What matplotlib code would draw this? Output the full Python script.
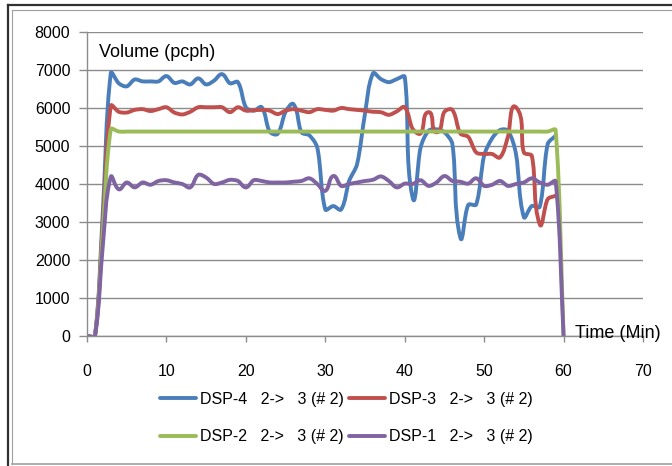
import numpy as np
import matplotlib
matplotlib.use('Agg')
import matplotlib.pyplot as plt
from matplotlib.path import Path
from matplotlib.patches import PathPatch
from matplotlib.lines import Line2D

plt.rcParams['font.family'] = ['Liberation Sans', 'DejaVu Sans']

# Time (min) and volumes (pcph)
time = list(range(61))

dsp4 = [0, 0, 3300, 6920, 6650, 6570, 6750, 6700, 6700, 6700,
        6840, 6660, 6700, 6620, 6780, 6620, 6720, 6890, 6650, 6680,
        6020, 5930, 6020, 5380, 5320, 5900, 6100, 5360, 5280, 4950,
        3330, 3420, 3330, 4080, 4520, 5850, 6910, 6760, 6680, 6760,
        6820, 3640, 4960, 5400, 5440, 5360, 5050, 2590, 3450, 3460,
        4750, 5200, 5420, 5400, 4800, 3130, 3420, 3400, 5050, 5270]

dsp3 = [0, 0, 3000, 6060, 5900, 5880, 5950, 5970, 5920, 5970,
        6020, 5880, 5830, 5900, 6020, 6020, 6020, 6020, 5890, 6020,
        5930, 5940, 5950, 5930, 5840, 5930, 5970, 5930, 5890, 5970,
        5950, 5930, 6000, 5970, 5950, 5930, 5900, 5890, 5820, 5910,
        6020, 5450, 5330, 5890, 5360, 5900, 5950, 5330, 5240, 4830,
        4790, 4790, 4700, 5250, 6020, 4830, 4740, 2940, 3600, 3690]

dsp2 = [0, 0, 2800, 5440, 5380, 5380, 5380, 5380, 5380, 5380,
        5380, 5380, 5380, 5380, 5380, 5380, 5380, 5380, 5380, 5380,
        5380, 5380, 5380, 5380, 5380, 5380, 5380, 5380, 5380, 5380,
        5380, 5380, 5380, 5380, 5380, 5380, 5380, 5380, 5380, 5380,
        5380, 5380, 5380, 5380, 5380, 5380, 5380, 5380, 5380, 5380,
        5380, 5380, 5380, 5380, 5380, 5380, 5380, 5380, 5380, 5420, 0]

dsp1 = [0, 0, 2400, 4190, 3860, 4040, 3910, 4040, 3980, 4080,
        4100, 4040, 4000, 3910, 4240, 4170, 4000, 4040, 4110, 4080,
        3910, 4100, 4080, 4040, 4040, 4040, 4060, 4080, 4150, 4000,
        3820, 4210, 3950, 4000, 4040, 4080, 4110, 4200, 4080, 3910,
        4010, 4000, 4100, 3950, 4040, 4210, 4080, 4060, 4010, 4150,
        3950, 3980, 4080, 3950, 4000, 4040, 4150, 4040, 3980, 4070, 0]

labels = ['DSP-4   2->   3 (# 2)', 'DSP-3   2->   3 (# 2)',
          'DSP-2   2->   3 (# 2)', 'DSP-1   2->   3 (# 2)']
colors = ['#4a7ebb', '#c0504d', '#9bbb59', '#8064a2']
series = [dsp4, dsp3, dsp2, dsp1]

W, H = 672, 466
fig = plt.figure(figsize=(W / 100, H / 100), dpi=100)
ax = fig.add_axes([87 / W, 1 - 336 / H, (643 - 87) / W, (336 - 32) / H])
ax.set_xlim(0, 70)
ax.set_ylim(0, 8000)
ax.set_xticks(range(0, 71, 10))
ax.set_yticks(range(0, 8001, 1000))
ax.grid(axis='y', color='#8c8c8c', lw=1.0)
ax.set_axisbelow(True)
for s in ['top', 'right']:
    ax.spines[s].set_visible(False)
for s in ['left', 'bottom']:
    ax.spines[s].set_color('#8c8c8c')
    ax.spines[s].set_linewidth(1.0)
ax.tick_params(axis='y', length=6, width=1.0, color='#8c8c8c', pad=6, labelsize=11.5)
ax.tick_params(axis='x', length=4.5, width=1.0, color='#8c8c8c', pad=16, labelsize=11.5)


def smooth_path(xs, ys, k=0.3):
    # excel-like smoothed line: bezier segments built in screen space
    pts = ax.transData.transform(np.column_stack([xs, ys]))
    n = len(pts)
    verts = [pts[0]]
    codes = [Path.MOVETO]
    tang = []
    for i in range(n):
        a = pts[max(i - 1, 0)]
        b = pts[min(i + 1, n - 1)]
        d = b - a
        nd = np.hypot(*d)
        tang.append(d / nd if nd > 0 else d)
    for i in range(n - 1):
        p1, p2 = pts[i], pts[i + 1]
        L = np.hypot(*(p2 - p1))
        c1 = p1 + tang[i] * L * k
        c2 = p2 - tang[i + 1] * L * k
        verts += [c1, c2, p2]
        codes += [Path.CURVE4] * 3
    verts = ax.transData.inverted().transform(np.array(verts))
    return Path(verts, codes)


for ys, c in zip(series, colors):
    p = smooth_path(time[:len(ys)], ys)
    ax.add_patch(PathPatch(p, fill=False, ec=c, lw=2.8,
                           capstyle='round', joinstyle='round'))

ax.text(1.5, 7450, 'Volume (pcph)', fontsize=13, va='center', ha='left')
ax.text(61.4, 60, 'Time (Min)', fontsize=13, va='center', ha='left', clip_on=False)

# legend fills column-wise, so order the entries to read row by row
handles = [Line2D([], [], color=c, lw=2.8, solid_capstyle='round') for c in colors]
order = [0, 2, 1, 3]
fig.legend([handles[i] for i in order], [labels[i] for i in order],
           ncol=2, loc='upper left',
           bbox_to_anchor=(160 / W, 1 - 392 / H), frameon=False,
           fontsize=11.5, handlelength=2.25, handletextpad=0.25,
           columnspacing=0.3, labelspacing=1.4, borderpad=0, borderaxespad=0)

# outer frame of the picture
def fline(x0, y0, x1, y1, **kw):
    fig.add_artist(Line2D([x0 / W, x1 / W], [1 - y0 / H, 1 - y1 / H],
                          transform=fig.transFigure, **kw))

fline(8, 5, 672, 5, color='#303030', lw=1.6)
fline(8, 5, 8, 466, color='#303030', lw=1.6)
fline(12, 10, 672, 10, color='#a0a0a0', lw=0.8)
fline(12, 10, 12, 464, color='#a0a0a0', lw=0.8)
fline(12, 464, 672, 464, color='#a0a0a0', lw=1.2)

fig.savefig('out.png', dpi=100)
